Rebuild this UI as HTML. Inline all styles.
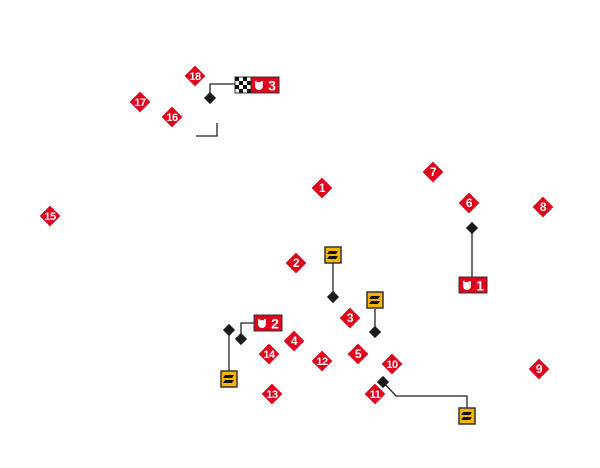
<!DOCTYPE html>
<html><head><meta charset="utf-8"><style>
html,body{margin:0;padding:0;background:#fff;width:600px;height:468px;overflow:hidden}
svg{display:block}
text{font-family:"Liberation Sans",sans-serif;font-weight:bold;fill:#fff;text-anchor:middle}
</style></head><body>
<svg width="600" height="468" viewBox="0 0 600 468" xmlns="http://www.w3.org/2000/svg">
<defs>
<g id="rd"><rect x="-7.8" y="-7.8" width="15.6" height="15.6" transform="rotate(45)" fill="#e0001b" stroke="#fff" stroke-width="1"/></g>
<g id="bd"><rect x="-4.3" y="-4.3" width="8.6" height="8.6" transform="rotate(45)" fill="#1a1a1a"/></g>
<g id="yb"><rect x="-8" y="-8" width="16" height="16" fill="#f5b400" stroke="#333" stroke-width="1.5"/>
<path d="M-4,-4 L5,-4 L3,-1 L-6,-1Z M-4,1 L5,1 L3,4 L-6,4Z" fill="#111"/></g>
<g id="ic"><circle cx="0" cy="1" r="4" fill="#fff"/><rect x="-4" y="-4" width="2" height="3" fill="#fff"/><rect x="2" y="-4" width="2" height="3" fill="#fff"/></g>
</defs>
<g stroke="#222" stroke-width="1.3" fill="none">
<polyline points="210,98 210,84 235,84"/>
<polyline points="196,136 217,136 217,123"/>
<line x1="333" y1="263" x2="333" y2="297"/>
<line x1="375" y1="309" x2="375" y2="332"/>
<line x1="229" y1="330" x2="229" y2="371"/>
<polyline points="241,339 241,323 254,323"/>
<line x1="472" y1="228" x2="472" y2="277"/>
<polyline points="383,382 396,396 467,396 467,408"/>
</g>
<use href="#bd" x="210" y="98"/><use href="#bd" x="333" y="297"/><use href="#bd" x="375" y="332"/>
<use href="#bd" x="229" y="330"/><use href="#bd" x="241" y="339"/><use href="#bd" x="472" y="228"/><use href="#bd" x="383" y="382"/>
<use href="#yb" x="333" y="255"/><use href="#yb" x="375" y="300"/><use href="#yb" x="229" y="379"/><use href="#yb" x="467" y="416"/>
<rect x="235" y="77" width="44" height="16" fill="#fff" stroke="#333" stroke-width="1"/>
<g fill="#111"><rect x="235" y="77" width="4" height="4"/><rect x="243" y="77" width="4" height="4"/><rect x="239" y="81" width="4" height="4"/><rect x="247" y="81" width="4" height="4"/><rect x="235" y="85" width="4" height="4"/><rect x="243" y="85" width="4" height="4"/><rect x="239" y="89" width="4" height="4"/><rect x="247" y="89" width="4" height="4"/></g>
<rect x="251" y="77" width="28" height="16" fill="#e0001b" stroke="#333" stroke-width="1"/>
<use href="#ic" x="259" y="85"/><text x="272" y="90.5" font-size="14">3</text>
<rect x="254" y="315" width="28" height="16" fill="#e0001b" stroke="#333" stroke-width="1"/>
<use href="#ic" x="262" y="323"/><text x="275" y="328.5" font-size="14">2</text>
<rect x="459" y="277" width="28" height="16" fill="#e0001b" stroke="#333" stroke-width="1"/>
<use href="#ic" x="467" y="285"/><text x="480" y="290.5" font-size="14">1</text>
<g font-size="11" letter-spacing="-0.5">
<use href="#rd" x="195" y="76"/><text x="195" y="80">18</text>
<use href="#rd" x="140" y="102"/><text x="140" y="106">17</text>
<use href="#rd" x="172" y="117"/><text x="172" y="121">16</text>
<use href="#rd" x="50" y="216"/><text x="50" y="220">15</text>
<use href="#rd" x="322" y="188"/><text x="322" y="192" font-size="12">1</text>
<use href="#rd" x="433" y="172"/><text x="433" y="176" font-size="12">7</text>
<use href="#rd" x="469" y="203"/><text x="469" y="207" font-size="12">6</text>
<use href="#rd" x="543" y="207"/><text x="543" y="211" font-size="12">8</text>
<use href="#rd" x="296" y="263"/><text x="296" y="267" font-size="12">2</text>
<use href="#rd" x="350" y="318"/><text x="350" y="322" font-size="12">3</text>
<use href="#rd" x="294" y="341"/><text x="294" y="345" font-size="12">4</text>
<use href="#rd" x="269" y="354"/><text x="269" y="358">14</text>
<use href="#rd" x="322" y="361"/><text x="322" y="365">12</text>
<use href="#rd" x="358" y="354"/><text x="358" y="358" font-size="12">5</text>
<use href="#rd" x="392" y="364"/><text x="392" y="368">10</text>
<use href="#rd" x="539" y="369"/><text x="539" y="373" font-size="12">9</text>
<use href="#rd" x="375" y="394"/><text x="375" y="398">11</text>
<use href="#rd" x="272" y="394"/><text x="272" y="398">13</text>
</g>
</svg>
</body></html>
